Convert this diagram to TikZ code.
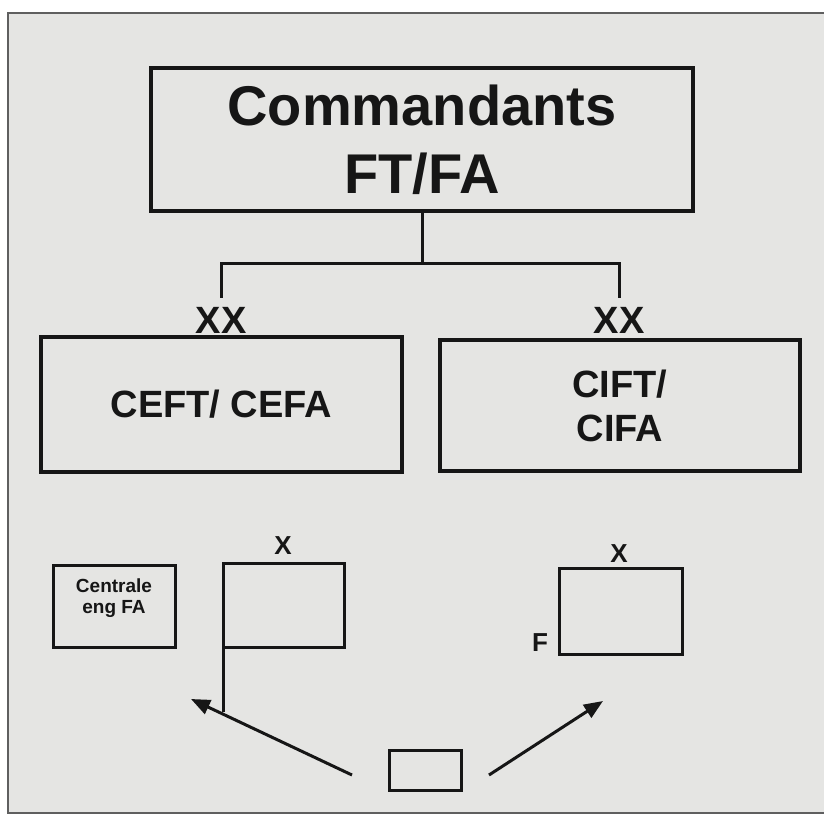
\documentclass[tikz,border=0pt]{standalone}
\usepackage{fontspec}
\setmainfont{Liberation Sans}
\usetikzlibrary{arrows.meta}
\definecolor{paper}{RGB}{229,229,227}
\definecolor{ink}{RGB}{22,22,22}
\definecolor{framec}{RGB}{95,95,95}
\begin{document}
\begin{tikzpicture}[x=1pt,y=-1pt,
  box/.style={draw=ink, rectangle, inner sep=0pt, outer sep=0pt, line width=3.5pt},
  smallbox/.style={box, line width=3pt},
  lbl/.style={text=ink, inner sep=0pt, align=center},
  big/.style={font=\bfseries\fontsize{56pt}{68pt}\selectfont},
  mid/.style={font=\bfseries\fontsize{38pt}{44pt}\selectfont},
  lab/.style={font=\bfseries\fontsize{26pt}{30pt}\selectfont},
  tiny/.style={font=\bfseries\fontsize{19pt}{21pt}\selectfont},
  conn/.style={draw=ink, line width=3pt},
  arr/.style={conn, -{Triangle[length=19pt,width=15pt]}}]
\useasboundingbox (0,0) rectangle (824,817);
% paper and frame
\fill[paper] (8,13) rectangle (824,813);
\draw[framec, line width=1.5pt] (824,13) -- (8,13) -- (8,813) -- (824,813);

% top box
\node[box, lbl, big, minimum width=542pt, minimum height=143pt] (cmd) at (422,139.5) {Commandants\\FT/FA};

% XX labels
\node[lbl, mid, inner ysep=9pt] (xxl) at (221,320) {XX};
\node[lbl, mid, inner ysep=9pt] (xxr) at (619,320) {XX};
\coordinate (jl) at (221,263);
\draw[conn] (cmd.south) -- (cmd.south |- jl);
\draw[conn] (xxl.north) |- (jl) -| (xxr.north);

% second level
\node[box, lbl, mid, minimum width=361pt, minimum height=135pt] (cefa) at (221.5,404.5) {CEFT/ CEFA};
\node[box, lbl, mid, minimum width=360pt, minimum height=131pt] (cifa) at (620,405.5) {CIFT/\\CIFA};

% third level, left
\node[smallbox, minimum width=122pt, minimum height=82pt] (cent) at (114,606) {};
\node[lbl, tiny] (centt) at (114,598) {Centrale\\eng FA};
\node[smallbox, minimum width=121pt, minimum height=84pt] (xbl) at (283.5,605) {};
\node[lbl, lab] (xl) at (283,546) {X};
\coordinate (lv) at (223,712);
\draw[conn] (xbl.south west) -- (lv);

% third level, right
\node[smallbox, minimum width=123pt, minimum height=86pt] (xbr) at (620.5,611) {};
\node[lbl, lab] (xr) at (619,554) {X};
\node[lbl, lab] (fl) at (540,643) {F};

% bottom small box and arrows
\node[smallbox, minimum width=72pt, minimum height=40pt] (sb) at (425,770) {};
\coordinate (al) at (352,775);
\coordinate (tl) at (191,699);
\coordinate (ar) at (489,775);
\coordinate (tr) at (603,701);
\draw[arr] (al) -- (tl);
\draw[arr] (ar) -- (tr);
\end{tikzpicture}
\end{document}
